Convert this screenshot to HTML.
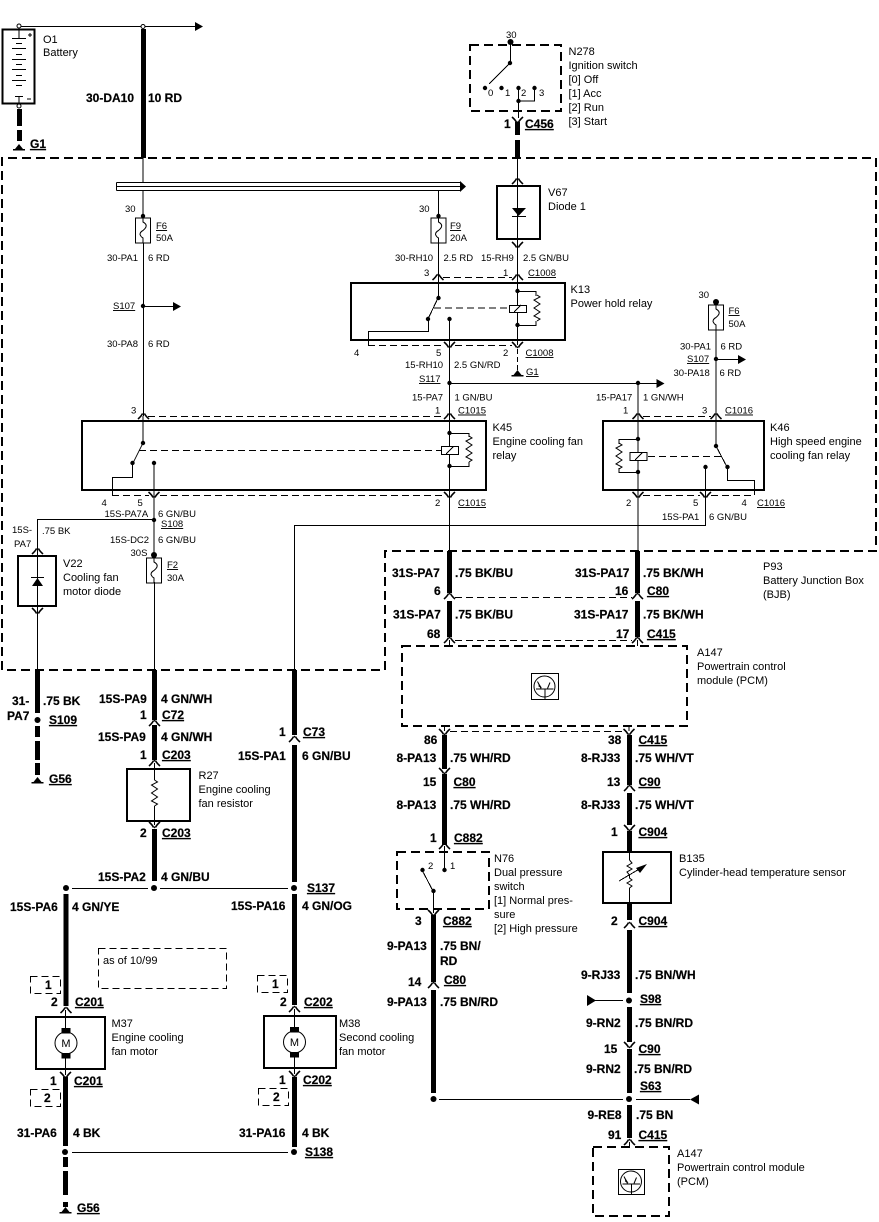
<!DOCTYPE html>
<html><head><meta charset="utf-8"><style>
html,body{margin:0;padding:0;background:#fff}
svg{display:block}
text{font-family:"Liberation Sans",Arial,sans-serif;fill:#000}
.s{font-size:9.5px}
.m{font-size:11px}
.b{font-size:12px;font-weight:bold;stroke:#000;stroke-width:.2}
.l{fill:none;stroke:#000;stroke-width:1;shape-rendering:crispEdges}
.t{fill:none;stroke:#000;stroke-width:5;shape-rendering:crispEdges}
.r{fill:none;stroke:#000;stroke-width:2;shape-rendering:crispEdges}
.h{fill:none;stroke:#000;stroke-width:2;stroke-dasharray:9 5;shape-rendering:crispEdges}
.q{fill:none;stroke:#000;stroke-width:1;stroke-dasharray:7 4;shape-rendering:crispEdges}
</style></head><body>
<svg xmlns="http://www.w3.org/2000/svg" width="879" height="1222" viewBox="0 0 879 1222">
<defs>
<g id="u"><path d="M-5.5 3Q-2 0-1-2.5M5.5 3Q2 0 1-2.5" fill="none" stroke="#000" stroke-width="1.6"/><path d="M-1.5-1.5L0-3.5 1.5-1.5Z"/></g>
<g id="n"><path d="M-5.5-3Q-2 0-1 2.5M5.5-3Q2 0 1 2.5" fill="none" stroke="#000" stroke-width="1.6"/><path d="M-1.5 1.5L0 3.5 1.5 1.5Z"/></g>
<circle id="d" r="2.2"/>
<circle id="D" r="3"/>
<polygon id="ar" points="0,-4.5 8,0 0,4.5"/>
<polygon id="al" points="0,0 9,-5 9,5"/>
<g id="f"><rect x="-7.5" y="0" width="15" height="25" fill="#fff" stroke="#000"/><path d="M0 0V4Q4 6 3 9Q2 11 0 12.5Q-3 14-3 16.5Q-2 19 0 20V25" fill="none" stroke="#000"/></g>
<path id="z" d="M0 0L3 2-3 5 3 9-3 13 3 17-3 21 3 24 0 26" fill="none" stroke="#000"/>
<g id="g"><polygon points="0,-5 -4,0 4,0"/><rect x="-6" y="0" width="12" height="1.5"/></g>
<g id="tr"><circle r="10.5" fill="none" stroke="#000"/><path d="M-8.5 2.5H9M0.500 2.500V13M-7-5L-3.500 2M5.500-4L3 2" fill="none" stroke="#000"/><polygon points="-5.500,-3 -2.500,1.500 -6,0"/></g>
<g id="mo"><circle r="11" fill="#fff" stroke="#000"/><rect x="-4.5" y="-15" width="9" height="5.5"/><rect x="-4.5" y="10" width="9" height="5.5"/><text x="0" y="4" text-anchor="middle" class="m">M</text></g>
</defs>

<!-- Main dashed box -->
<path class="h" d="M2 670V158H876V551H385V670Z"/>

<!-- Battery -->
<rect class="r" x="2.5" y="29.5" width="32" height="74"/>
<path class="l" d="M19 29V38M12 38.500H26M16 43.500H22M12 48.500H26M16 54.500H22M12 59.500H26M16 64.500H22M12 69.500H26M16 75.500H22M12 80.500H26M16 85.500H22M15 96.500H23M19 96V104M28 35H32M30 33V37M27 99H31"/>
<circle cx="19" cy="26" r="2" fill="#fff" stroke="#000"/>
<circle cx="19" cy="106" r="2" fill="#fff" stroke="#000"/>
<text class="m" x="43" y="43">O1</text><text class="m" x="43" y="56">Battery</text>
<path class="t" d="M19.5 109V126M19.5 130V141"/>
<use href="#g" x="19" y="149"/>
<text class="b" x="30" y="148" text-decoration="underline">G1</text>

<!-- top feed -->
<path class="l" d="M21 26.500H195M143 158V182"/>
<circle cx="143" cy="26.500" r="2" fill="#fff" stroke="#000"/>
<use href="#ar" x="195" y="26.500"/>
<path class="t" d="M143.5 29V158"/>
<text class="b" x="86" y="102">30-DA10</text><text class="b" x="148" y="102">10 RD</text>

<!-- Bus bar -->
<path class="l" d="M116.5 182.500H460M116.500 186.500H460M116.500 190.500H460M116.500 182.500V190.500"/>
<polygon points="460,181 466,186.500 460,192"/>

<!-- F6 left -->
<path class="l" d="M143 190V217M143.500 243V416"/>
<use href="#d" x="143" y="216"/><use href="#f" x="143" y="218"/>
<text class="s" x="125" y="212">30</text>
<text class="s" x="156" y="229" text-decoration="underline">F6</text><text class="s" x="156" y="241">50A</text>
<text class="s" x="107" y="261">30-PA1</text><text class="s" x="148" y="261">6 RD</text>
<use href="#d" x="143" y="306"/><path class="l" d="M143 306.500H173"/><use href="#ar" x="173" y="306.500"/>
<text class="s" x="113" y="309" text-decoration="underline">S107</text>
<text class="s" x="107" y="347">30-PA8</text><text class="s" x="148" y="347">6 RD</text>

<!-- N278 -->
<rect class="h" x="470" y="45" width="91" height="66"/>
<text class="s" x="506" y="38">30</text>
<use href="#D" x="510.500" y="42"/>
<path class="l" d="M510.500 42V63M510 63L489 84M518.500 88V118M534.500 88V101H518"/>
<use href="#d" x="510" y="63"/><use href="#d" x="485" y="88"/><use href="#d" x="501.500" y="88"/><use href="#d" x="518.500" y="88"/><use href="#d" x="534.500" y="88"/><use href="#d" x="518.500" y="101"/>
<text class="s" x="488" y="96">0</text><text class="s" x="505" y="96">1</text><text class="s" x="521" y="96">2</text><text class="s" x="539" y="96">3</text>
<text class="m" x="568.500" y="55">N278</text><text class="m" x="568.500" y="69">Ignition switch</text><text class="m" x="568.500" y="83">[0] Off</text><text class="m" x="568.500" y="97">[1] Acc</text><text class="m" x="568.500" y="111">[2] Run</text><text class="m" x="568.500" y="125">[3] Start</text>
<use href="#n" x="517.500" y="120"/>
<path class="t" d="M517.500 122V135M517.500 140V158"/>
<text class="b" x="504" y="128">1</text><text class="b" x="525" y="128" text-decoration="underline">C456</text>

<!-- V67 -->
<path class="l" d="M517.500 158V345"/>
<rect class="r" x="497" y="186" width="43" height="53"/>
<use href="#u" x="517.500" y="181"/><use href="#n" x="517.500" y="245"/>
<polygon points="512,208 526,208 518.500,216"/><path class="l" d="M512 216.500H526"/>
<text class="m" x="548" y="196">V67</text><text class="m" x="548" y="210">Diode 1</text>

<!-- F9 -->
<path class="l" d="M438.500 190V217M438.500 243V298"/>
<use href="#d" x="438.500" y="216"/><use href="#f" x="438.500" y="218"/>
<text class="s" x="419" y="212">30</text>
<text class="s" x="450" y="229" text-decoration="underline">F9</text><text class="s" x="450" y="241">20A</text>
<text class="s" x="395" y="261">30-RH10</text><text class="s" x="443.500" y="261">2.5 RD</text><text class="s" x="481" y="261">15-RH9</text><text class="s" x="523" y="261">2.5 GN/BU</text>
<text class="s" x="424" y="276">3</text><text class="s" x="503" y="276">1</text><text class="s" x="528" y="276" text-decoration="underline">C1008</text>
<use href="#u" x="438" y="277"/><use href="#u" x="517.500" y="277"/>
<path class="q" d="M443 277.500H512"/>

<!-- K13 -->
<rect class="r" x="351" y="283" width="214" height="57"/>
<text class="m" x="570.500" y="293">K13</text><text class="m" x="570.500" y="307">Power hold relay</text>
<use href="#d" x="438.500" y="298"/><use href="#d" x="428" y="319"/><use href="#d" x="449.500" y="319"/>
<path class="l" d="M438 298L428 319M428.500 319V331.500H368.500V345M449.500 319V416"/>
<path class="q" d="M434 308H509"/>
<rect x="509.500" y="305.500" width="17" height="7" fill="#fff" stroke="#000"/>
<path class="l" d="M514 312L521 305"/>
<path class="l" d="M517.500 291.500H536V296M536 321V325.500H517.500"/>
<use href="#z" x="537" y="295"/>
<use href="#d" x="517.500" y="291"/><use href="#d" x="517.500" y="325"/>
<use href="#n" x="449.500" y="345"/><use href="#n" x="517.500" y="345"/>
<path class="q" d="M368 345.500H444M455 345.500H512"/>
<text class="s" x="354" y="356">4</text><text class="s" x="436" y="356">5</text><text class="s" x="503" y="356">2</text><text class="s" x="525.500" y="356" text-decoration="underline">C1008</text>
<path class="l" d="M517.500 349V371" stroke-dasharray="5 3"/>
<use href="#g" x="517.500" y="375"/>
<text class="s" x="526" y="375" text-decoration="underline">G1</text>
<text class="s" x="405" y="368">15-RH10</text><text class="s" x="454" y="368">2.5 GN/RD</text>
<text class="s" x="419" y="382" text-decoration="underline">S117</text>
<path class="l" d="M449 383.500H657"/><use href="#d" x="449.500" y="383"/><use href="#d" x="638" y="383"/><use href="#ar" x="656.500" y="383.500"/>
<text class="s" x="412" y="400.500">15-PA7</text><text class="s" x="454.500" y="400.500">1 GN/BU</text>
<text class="s" x="596" y="400.500">15-PA17</text><text class="s" x="643" y="400.500">1 GN/WH</text>
<text class="s" x="435" y="413.500">1</text><text class="s" x="458" y="413.500" text-decoration="underline">C1015</text>

<!-- K45 -->
<text class="s" x="131" y="413.500">3</text>
<use href="#u" x="143.500" y="416"/><use href="#u" x="449.500" y="416"/>
<path class="q" d="M148 416.500H444"/>
<rect class="r" x="82" y="421" width="404" height="69"/>
<text class="m" x="492.500" y="431">K45</text><text class="m" x="492.500" y="445">Engine cooling fan</text><text class="m" x="492.500" y="459">relay</text>
<use href="#d" x="143" y="443"/><use href="#d" x="132.500" y="463"/><use href="#d" x="154" y="463"/>
<path class="l" d="M143 416V443M143 443L133 463M132.500 463V477.500H112.500V495M154 463V558"/>
<path class="q" d="M139 450.500H441"/>
<path class="l" d="M449.500 416V551"/>
<rect x="441.500" y="446.500" width="17" height="8" fill="#fff" stroke="#000"/>
<path class="l" d="M446 454L453 447"/>
<use href="#d" x="449.500" y="433"/><use href="#d" x="449.500" y="466"/>
<path class="l" d="M449.500 433.500H469V437M469 462V466.500H449.500"/>
<use href="#z" x="469" y="436"/>
<use href="#n" x="154" y="495"/><use href="#n" x="449.500" y="495"/>
<path class="q" d="M112 495.500H149M160 495.500H444"/>
<text class="s" x="101.500" y="506">4</text><text class="s" x="137.500" y="506">5</text><text class="s" x="435" y="506">2</text><text class="s" x="458" y="506" text-decoration="underline">C1015</text>
<text class="s" x="104.500" y="517">15S-PA7A</text><text class="s" x="158" y="517">6 GN/BU</text>
<text class="s" x="161" y="527" text-decoration="underline">S108</text>
<use href="#d" x="154" y="520"/>
<path class="l" d="M154 519.500H37.500V670"/>
<text class="s" x="12" y="533">15S-</text><text class="s" x="14" y="547">PA7</text><text class="s" x="42" y="534">.75 BK</text>
<text class="s" x="110" y="543">15S-DC2</text><text class="s" x="158" y="543">6 GN/BU</text><text class="s" x="130.500" y="556">30S</text>

<!-- F2 -->
<use href="#D" x="154" y="555"/><use href="#f" x="154" y="558"/>
<path class="l" d="M154.500 582V670"/>
<text class="s" x="167" y="568" text-decoration="underline">F2</text><text class="s" x="167" y="581">30A</text>

<!-- V22 -->
<rect class="r" x="18" y="556" width="38" height="50"/>
<use href="#u" x="37.500" y="551"/><use href="#n" x="37.500" y="611"/>
<polygon points="37.500,578 32,586 43,586"/><path class="l" d="M31 577.500H44"/>
<text class="m" x="63" y="567">V22</text><text class="m" x="63" y="581">Cooling fan</text><text class="m" x="63" y="595">motor diode</text>

<!-- feed line to K46 -->
<path class="l" d="M294.500 670V525.500H705.500V467"/>
<text class="s" x="662" y="520">15S-PA1</text><text class="s" x="709" y="520">6 GN/BU</text>

<!-- K46 -->
<rect class="r" x="603" y="421" width="161" height="69"/>
<text class="m" x="770" y="431">K46</text><text class="m" x="770" y="445">High speed engine</text><text class="m" x="770" y="459">cooling fan relay</text>
<path class="l" d="M638 383V551"/>
<use href="#d" x="638" y="439"/><use href="#d" x="638" y="472"/>
<path class="l" d="M638 439.500H619V444M619 468V472.500H638"/>
<use href="#z" x="619" y="443"/>
<rect x="630" y="452.500" width="17" height="8" fill="#fff" stroke="#000"/>
<path class="l" d="M635 460L642 453"/>
<path class="q" d="M648 456.500H725"/>
<use href="#d" x="716" y="446"/><use href="#d" x="727.500" y="467"/><use href="#d" x="705.500" y="467"/>
<path class="l" d="M716 329V446M716 446L727 467M727.500 467V480.500H754.500V495"/>
<use href="#D" x="716" y="302"/><use href="#f" x="716" y="305"/>
<text class="s" x="698.500" y="298">30</text><text class="s" x="728.500" y="314" text-decoration="underline">F6</text><text class="s" x="728.500" y="327">50A</text>
<text class="s" x="680" y="349.500">30-PA1</text><text class="s" x="720.500" y="349.500">6 RD</text>
<text class="s" x="687" y="362" text-decoration="underline">S107</text>
<use href="#d" x="716" y="359"/><path class="l" d="M716 359.500H738"/><use href="#ar" x="738" y="359.500"/>
<text class="s" x="673.500" y="376">30-PA18</text><text class="s" x="719.500" y="376">6 RD</text>
<use href="#u" x="638" y="416"/><use href="#u" x="716" y="416"/>
<path class="q" d="M643 416.500H711"/>
<text class="s" x="623" y="413.500">1</text><text class="s" x="702" y="413.500">3</text><text class="s" x="725" y="413.500" text-decoration="underline">C1016</text>
<use href="#n" x="638" y="495"/><use href="#n" x="705.500" y="495"/>
<path class="q" d="M643 495.500H700M711 495.500H754"/>
<text class="s" x="626" y="506">2</text><text class="s" x="693" y="506">5</text><text class="s" x="741.500" y="506">4</text><text class="s" x="757" y="506" text-decoration="underline">C1016</text>

<text class="m" x="763" y="570">P93</text><text class="m" x="763" y="584">Battery Junction Box</text><text class="m" x="763" y="598">(BJB)</text>

<!-- 449 / 638 thick -->
<path class="t" d="M449.500 551V593M449.500 601V637M637.500 551V593M637.500 601V637"/>
<use href="#u" x="449.500" y="596"/><use href="#u" x="637.500" y="596"/><use href="#u" x="449.500" y="640"/><use href="#u" x="637.500" y="640"/>
<path class="q" d="M455 597.500H632M455 640.500H632"/>
<path class="l" d="M449.500 640V646M637.500 640V646"/>
<text class="b" x="392" y="577">31S-PA7</text><text class="b" x="455" y="577">.75 BK/BU</text><text class="b" x="575" y="577">31S-PA17</text><text class="b" x="643" y="577">.75 BK/WH</text>
<text class="b" x="434" y="595">6</text><text class="b" x="615" y="595">16</text><text class="b" x="647" y="595" text-decoration="underline">C80</text>
<text class="b" x="393" y="618.500">31S-PA7</text><text class="b" x="455" y="618.500">.75 BK/BU</text><text class="b" x="574" y="618.500">31S-PA17</text><text class="b" x="643" y="618.500">.75 BK/WH</text>
<text class="b" x="427" y="638">68</text><text class="b" x="616" y="638">17</text><text class="b" x="647" y="638" text-decoration="underline">C415</text>

<!-- A147 top -->
<rect class="h" x="402" y="646" width="285" height="80"/>
<rect x="531.500" y="673.500" width="27" height="26" fill="none" stroke="#000"/>
<use href="#tr" x="544.500" y="686.500"/>
<text class="m" x="697" y="656">A147</text><text class="m" x="697" y="670">Powertrain control</text><text class="m" x="697" y="684">module (PCM)</text>

<!-- 444 column -->
<path class="l" d="M444.500 726V731M629 726V731"/>
<use href="#n" x="444.500" y="732"/><use href="#n" x="629" y="732"/>
<path class="q" d="M450 731.500H624"/>
<path class="t" d="M444.500 735V769M444.500 774V845M629.500 735V785M629.500 793V825M629.500 831V852"/>
<use href="#n" x="444.500" y="771"/><use href="#u" x="629.500" y="788"/><use href="#n" x="629.500" y="828"/>
<text class="b" x="424" y="744">86</text><text class="b" x="608" y="744">38</text><text class="b" x="638.500" y="744" text-decoration="underline">C415</text>
<text class="b" x="396.500" y="762">8-PA13</text><text class="b" x="450" y="762">.75 WH/RD</text><text class="b" x="581" y="762">8-RJ33</text><text class="b" x="635" y="762">.75 WH/VT</text>
<text class="b" x="423" y="786">15</text><text class="b" x="453.500" y="786" text-decoration="underline">C80</text><text class="b" x="607" y="786">13</text><text class="b" x="638.500" y="786" text-decoration="underline">C90</text>
<text class="b" x="396.500" y="809">8-PA13</text><text class="b" x="450" y="809">.75 WH/RD</text><text class="b" x="581" y="809">8-RJ33</text><text class="b" x="635" y="809">.75 WH/VT</text>
<text class="b" x="430" y="842">1</text><text class="b" x="454" y="842" text-decoration="underline">C882</text><text class="b" x="611" y="836">1</text><text class="b" x="638.500" y="836" text-decoration="underline">C904</text>

<!-- N76 -->
<use href="#u" x="444.500" y="846"/>
<rect class="h" x="397" y="852" width="92" height="57"/>
<path class="l" d="M444.500 846V870M422 870L433 891M433.500 891V913"/>
<use href="#d" x="444.500" y="870"/><use href="#d" x="422.500" y="870"/><use href="#d" x="433.500" y="891"/>
<text class="s" x="428" y="869">2</text><text class="s" x="450" y="869">1</text>
<text class="m" x="494" y="862">N76</text><text class="m" x="494" y="876">Dual pressure</text><text class="m" x="494" y="890">switch</text><text class="m" x="494" y="904">[1] Normal pres-</text><text class="m" x="494" y="918">sure</text><text class="m" x="494" y="932">[2] High pressure</text>
<use href="#n" x="433.500" y="913"/>
<path class="t" d="M433.500 915V982M433.500 990V1093"/>
<use href="#u" x="433.500" y="985"/>
<text class="b" x="415" y="925">3</text><text class="b" x="443" y="925" text-decoration="underline">C882</text>
<text class="b" x="387" y="950">9-PA13</text><text class="b" x="440" y="950">.75 BN/</text><text class="b" x="440" y="965">RD</text>
<text class="b" x="408" y="986">14</text><text class="b" x="444" y="984" text-decoration="underline">C80</text>
<text class="b" x="387" y="1006">9-PA13</text><text class="b" x="440" y="1006">.75 BN/RD</text>

<!-- B135 -->
<rect class="r" x="603" y="852" width="68" height="51"/>
<path class="l" d="M629.500 852V860M629.500 888V903"/>
<path d="M629.500 860L632 863 627 866 632 869 627 872 629.500 875 629.500 878 632 880 627 883 632 886 629.500 888" fill="none" stroke="#000"/>
<path class="l" d="M619 881L641 868" shape-rendering="auto"/><polygon points="647,864 636,868 640,873"/>
<text class="m" x="679" y="862">B135</text><text class="m" x="679" y="876">Cylinder-head temperature sensor</text>
<path class="t" d="M629.500 903V920M629.500 930V993M629.500 1007V1042M629.500 1049V1093M629.500 1105V1138"/>
<use href="#u" x="629.500" y="925"/><use href="#n" x="629.500" y="1045"/><use href="#u" x="629.500" y="1142"/>
<text class="b" x="611" y="925">2</text><text class="b" x="638.500" y="925" text-decoration="underline">C904</text>
<text class="b" x="581" y="979">9-RJ33</text><text class="b" x="635" y="979">.75 BN/WH</text>
<use href="#D" x="629" y="1000.500"/><path class="l" d="M595 1000.500H623"/><polygon points="587,995 587,1006 596,1000.500"/>
<text class="b" x="640" y="1003" text-decoration="underline">S98</text>
<text class="b" x="586" y="1027">9-RN2</text><text class="b" x="635" y="1027">.75 BN/RD</text>
<text class="b" x="604" y="1053">15</text><text class="b" x="638.500" y="1053" text-decoration="underline">C90</text>
<text class="b" x="586" y="1073">9-RN2</text><text class="b" x="634" y="1073">.75 BN/RD</text>
<text class="b" x="640" y="1090" text-decoration="underline">S63</text>
<use href="#D" x="433.500" y="1099"/><use href="#D" x="629" y="1099"/>
<path class="l" d="M439 1099.500H623M636 1099.500H690"/><use href="#al" x="690" y="1099.500"/>
<text class="b" x="587.500" y="1119">9-RE8</text><text class="b" x="636" y="1119">.75 BN</text>
<text class="b" x="608" y="1139">91</text><text class="b" x="638.500" y="1139" text-decoration="underline">C415</text>
<path class="l" d="M629.500 1142V1147"/>

<!-- A147 bottom -->
<rect class="h" x="593" y="1147" width="76" height="69"/>
<rect x="618.500" y="1169.500" width="26" height="25" fill="none" stroke="#000"/>
<use href="#tr" x="631" y="1181.500"/>
<text class="m" x="677" y="1157">A147</text><text class="m" x="677" y="1171">Powertrain control module</text><text class="m" x="677" y="1185">(PCM)</text>

<!-- left lower -->
<path class="t" d="M37.500 670V713M37.500 726V737M37.500 741V760M37.500 763V775"/>
<use href="#D" x="37.500" y="720"/><use href="#g" x="37.500" y="782"/>
<text class="b" x="12" y="705">31-</text><text class="b" x="7" y="720">PA7</text><text class="b" x="43" y="705">.75 BK</text>
<text class="b" x="49" y="724" text-decoration="underline">S109</text><text class="b" x="49" y="783" text-decoration="underline">G56</text>

<path class="t" d="M154.500 670V720M154.500 725V760M154.500 829V881M294.500 670V735M294.500 745V882M294.500 894V1005M66 894V1006"/>
<use href="#u" x="154.500" y="723"/><use href="#u" x="154.500" y="763"/><use href="#u" x="294.500" y="739"/>
<text class="b" x="99" y="703">15S-PA9</text><text class="b" x="161" y="703">4 GN/WH</text>
<text class="b" x="140" y="719">1</text><text class="b" x="162" y="719" text-decoration="underline">C72</text>
<text class="b" x="98" y="741">15S-PA9</text><text class="b" x="161" y="741">4 GN/WH</text>
<text class="b" x="140" y="759">1</text><text class="b" x="162" y="759" text-decoration="underline">C203</text>
<text class="b" x="279" y="736">1</text><text class="b" x="303" y="736" text-decoration="underline">C73</text>
<text class="b" x="238" y="760">15S-PA1</text><text class="b" x="302" y="760">6 GN/BU</text>

<!-- R27 -->
<rect class="r" x="127" y="769" width="63" height="52"/>
<path class="l" d="M154.500 763V780M154.500 806V825"/>
<use href="#z" x="154.500" y="780"/>
<text class="m" x="198.500" y="779">R27</text><text class="m" x="198.500" y="793">Engine cooling</text><text class="m" x="198.500" y="807">fan resistor</text>
<use href="#n" x="154.500" y="825"/>
<text class="b" x="140" y="837">2</text><text class="b" x="162" y="837" text-decoration="underline">C203</text>
<text class="b" x="98" y="881">15S-PA2</text><text class="b" x="161" y="881">4 GN/BU</text>
<use href="#D" x="66" y="888"/><use href="#D" x="154" y="888"/><use href="#D" x="294" y="888"/>
<path class="l" d="M72 888.500H148M160 888.500H288"/>
<text class="b" x="307" y="892" text-decoration="underline">S137</text>
<text class="b" x="10" y="911">15S-PA6</text><text class="b" x="72" y="911">4 GN/YE</text>
<text class="b" x="231" y="910">15S-PA16</text><text class="b" x="302" y="910">4 GN/OG</text>

<!-- note -->
<rect class="q" x="98.500" y="948.500" width="128" height="40"/>
<text class="m" x="103" y="964">as of 10/99</text>
<rect class="q" x="30.500" y="976.500" width="30" height="17"/><text class="b" x="45" y="989">1</text>
<rect class="q" x="257.500" y="975.500" width="30" height="17"/><text class="b" x="272" y="988">1</text>
<rect class="q" x="30.500" y="1089.500" width="30" height="17"/><text class="b" x="44" y="1102">2</text>
<rect class="q" x="258.500" y="1088.500" width="30" height="17"/><text class="b" x="273" y="1101">2</text>

<!-- M37 / M38 -->
<text class="b" x="51" y="1006">2</text><text class="b" x="75" y="1006" text-decoration="underline">C201</text>
<text class="b" x="280" y="1006">2</text><text class="b" x="304" y="1006" text-decoration="underline">C202</text>
<use href="#u" x="66" y="1010"/><use href="#u" x="294.500" y="1009"/>
<path class="l" d="M65.500 1010V1075M294.500 1009V1074"/>
<rect class="r" x="36" y="1017" width="69" height="52"/>
<rect class="r" x="264" y="1016" width="72" height="52"/>
<use href="#mo" x="66" y="1043"/><use href="#mo" x="294.500" y="1042"/>
<text class="m" x="111.500" y="1027">M37</text><text class="m" x="111.500" y="1041">Engine cooling</text><text class="m" x="111.500" y="1055">fan motor</text>
<text class="m" x="339" y="1027">M38</text><text class="m" x="339" y="1041">Second cooling</text><text class="m" x="339" y="1055">fan motor</text>
<use href="#n" x="65.500" y="1075"/><use href="#n" x="294.500" y="1074"/>
<text class="b" x="50" y="1085">1</text><text class="b" x="74" y="1085" text-decoration="underline">C201</text>
<text class="b" x="279" y="1084">1</text><text class="b" x="303" y="1084" text-decoration="underline">C202</text>
<path class="t" d="M65.500 1077V1146M294.500 1077V1147M65.500 1157V1167M65.500 1171V1195M65.500 1202V1207"/>
<text class="b" x="17" y="1137">31-PA6</text><text class="b" x="73" y="1137">4 BK</text>
<text class="b" x="239" y="1137">31-PA16</text><text class="b" x="302" y="1137">4 BK</text>
<use href="#D" x="65" y="1152"/><use href="#D" x="294" y="1152"/>
<path class="l" d="M72 1152.500H288"/>
<text class="b" x="305" y="1156" text-decoration="underline">S138</text>
<use href="#g" x="65.500" y="1212"/>
<text class="b" x="77" y="1212" text-decoration="underline">G56</text>
</svg>
</body></html>
